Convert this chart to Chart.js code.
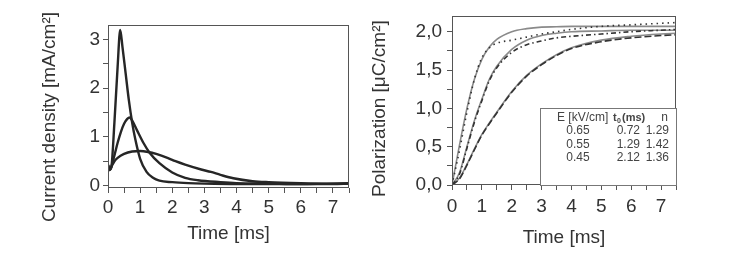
<!DOCTYPE html>
<html>
<head>
<meta charset="utf-8">
<script src="https://cdn.jsdelivr.net/npm/chart.js@4"></script>
<style>
  body { margin: 0; background: #fff; width: 737px; height: 265px; position: relative; overflow: hidden; }
  canvas { position: absolute; top: 0; }
  #current { left: 0; }
  #polar { left: 370px; }
</style>
</head>
<body>
<canvas id="current" width="370" height="265"></canvas>
<canvas id="polar" width="367" height="265"></canvas>
<script>
/* current density transients (three fields) */
var time1 = [0, 0.05, 0.1, 0.2, 0.3, 0.38, 0.45, 0.55, 0.65, 0.75, 0.85, 1.0, 1.2, 1.4, 1.6, 2.0, 2.5, 3, 4, 5, 6, 7, 7.5];
var current1 = [0.42, 0.32, 0.36, 1.3, 2.45, 3.2, 2.85, 2.3, 1.75, 1.3, 0.95, 0.55, 0.28, 0.16, 0.1, 0.07, 0.05, 0.04, 0.03, 0.03, 0.03, 0.03, 0.04];
var time2 = [0, 0.05, 0.1, 0.2, 0.3, 0.4, 0.5, 0.6, 0.67, 0.75, 0.9, 1.1, 1.3, 1.6, 2.0, 2.4, 2.8, 3.5, 4, 5, 6, 7, 7.5];
var current2 = [0.42, 0.32, 0.38, 0.62, 0.88, 1.1, 1.27, 1.37, 1.4, 1.34, 1.14, 0.88, 0.67, 0.46, 0.27, 0.16, 0.11, 0.07, 0.05, 0.04, 0.03, 0.04, 0.04];
var time3 = [0, 0.05, 0.1, 0.2, 0.3, 0.5, 0.75, 1.0, 1.25, 1.5, 1.85, 2.1, 2.4, 2.9, 3.2, 3.5, 3.9, 4.5, 5, 6, 7, 7.5];
var current3 = [0.42, 0.32, 0.38, 0.5, 0.57, 0.65, 0.7, 0.71, 0.69, 0.65, 0.57, 0.5, 0.43, 0.33, 0.28, 0.22, 0.15, 0.09, 0.07, 0.05, 0.04, 0.05];

/* polarization: fits (solid) and measured (dotted / dash-dot / dashed) */
var polTime = [0, 0.25, 0.5, 0.75, 1, 1.25, 1.5, 2, 2.5, 3, 3.5, 4, 5, 6, 7, 7.5];
var fit065 = [0, 0.52, 1.0, 1.38, 1.64, 1.8, 1.9, 2.0, 2.04, 2.06, 2.065, 2.07, 2.07, 2.07, 2.07, 2.07];
var meas065 = [0, 0.45, 0.95, 1.38, 1.66, 1.79, 1.85, 1.89, 1.93, 1.97, 2.0, 2.03, 2.07, 2.09, 2.11, 2.12];
var fit055 = [0, 0.16, 0.5, 0.84, 1.12, 1.38, 1.55, 1.77, 1.89, 1.95, 1.98, 2.0, 2.01, 2.02, 2.02, 2.02];
var meas055 = [0, 0.14, 0.48, 0.82, 1.1, 1.36, 1.53, 1.73, 1.83, 1.88, 1.92, 1.94, 1.97, 2.0, 2.02, 2.03];
var fit045 = [0, 0.09, 0.27, 0.47, 0.66, 0.81, 0.95, 1.22, 1.43, 1.58, 1.7, 1.79, 1.89, 1.94, 1.97, 1.98];
var meas045 = [0, 0.08, 0.26, 0.46, 0.65, 0.8, 0.94, 1.21, 1.42, 1.57, 1.69, 1.78, 1.87, 1.92, 1.95, 1.96];

/* inset table */
var tableFields = ['0.65', '0.55', '0.45'];
var tableT0 = ['0.72', '1.29', '2.12'];
var tableN = ['1.29', '1.42', '1.36'];

var FONT = "'Liberation Sans', Arial, sans-serif";
var AXIS = '#555';

var toXY = function(xs, ys) {
  return xs.map(function(x, i) { return { x: x, y: ys[i] }; });
};

// box around the plot area
var framePlugin = {
  id: 'frame',
  afterDraw: function(chart) {
    var a = chart.chartArea, ctx = chart.ctx;
    ctx.save();
    ctx.strokeStyle = AXIS;
    ctx.lineWidth = 1;
    ctx.strokeRect(Math.round(a.left) + 0.5, Math.round(a.top) + 0.5,
      Math.round(a.right - a.left) - 1, Math.round(a.bottom - a.top) - 1);
    ctx.restore();
  }
};

var tablePlugin = {
  id: 'fitTable',
  afterDraw: function(chart) {
    var a = chart.chartArea, ctx = chart.ctx;
    var left = a.right - 136, top = a.bottom - 77;
    ctx.save();
    ctx.fillStyle = '#fff';
    ctx.fillRect(left, top, a.right - left, a.bottom - top);
    ctx.strokeStyle = '#777';
    ctx.lineWidth = 1;
    ctx.strokeRect(Math.round(left) + 0.5, Math.round(top) + 0.5, a.right - left, a.bottom - top);
    ctx.fillStyle = '#444';
    ctx.textBaseline = 'middle';
    ctx.font = '12px ' + FONT;
    ctx.textAlign = 'left';
    ctx.fillText('E [kV/cm]', left + 17, top + 10);
    ctx.font = 'bold 11px ' + FONT;
    ctx.fillText('t', left + 73, top + 10);
    ctx.font = 'bold 7px ' + FONT;
    ctx.fillText('0', left + 77, top + 13);
    ctx.font = 'bold 11px ' + FONT;
    ctx.fillText('(ms)', left + 82, top + 10);
    ctx.font = '12px ' + FONT;
    ctx.textAlign = 'right';
    ctx.fillText('n', left + 128, top + 10);
    for (var i = 0; i < tableFields.length; i++) {
      var y = top + 23 + i * 13.5;
      ctx.textAlign = 'center';
      ctx.fillText(tableFields[i], left + 38, y);
      ctx.textAlign = 'right';
      ctx.fillText(tableT0[i], left + 100, y);
      ctx.fillText(tableN[i], left + 129, y);
    }
    ctx.restore();
  }
};

var axisFont = { family: FONT, size: 19, lineHeight: 1 };
var tickFont = { family: FONT, size: 19 };
var SP = '\u00a0';

var xScale = function(height, labelPad, titlePad) {
  return {
    type: 'linear', min: 0, max: 7.5,
    afterFit: function(s) { s.height = height; },
    border: { display: false },
    grid: { drawOnChartArea: false, color: AXIS, tickLength: 5 },
    ticks: {
      stepSize: 0.5, includeBounds: false, color: '#333', font: tickFont, padding: labelPad,
      maxRotation: 0, autoSkip: false,
      callback: function(v) { return Number.isInteger(v) ? String(v) : ''; }
    },
    title: { display: true, text: 'Time [ms]', color: '#333', font: axisFont, padding: { top: 0, bottom: titlePad } }
  };
};

var lineDefaults = { pointRadius: 0, fill: false, cubicInterpolationMode: 'monotone' };

var darkLine = function(xs, ys) {
  return Object.assign({ data: toXY(xs, ys), borderColor: '#262626', borderWidth: 2.4 }, lineDefaults);
};

new Chart(document.getElementById('current'), {
  type: 'line',
  data: { datasets: [darkLine(time1, current1), darkLine(time2, current2), darkLine(time3, current3)] },
  options: {
    responsive: false, animation: false,
    layout: { padding: { left: 0, top: 25, right: 21, bottom: 0 } },
    plugins: { legend: { display: false }, tooltip: { enabled: false } },
    scales: {
      x: xScale(77, 3, 21.5),
      y: {
        min: -0.05, max: 3.3,
        afterFit: function(s) { s.width = 108; },
        border: { display: false },
        grid: { drawOnChartArea: false, color: AXIS, tickLength: 5 },
        ticks: {
          stepSize: 0.5, includeBounds: false, color: '#333', font: tickFont, padding: 3, autoSkip: false,
          callback: function(v) { return Number.isInteger(v) ? String(v) : ''; }
        },
        // trailing spaces nudge the rotated title down to where the reference has it
        title: { display: true, text: 'Current density [mA/cm²]' + SP + SP + SP + SP, color: '#333', font: axisFont, padding: { top: 40.5, bottom: 0 } }
      }
    }
  },
  plugins: [framePlugin]
});

var fitLine = function(ys) {
  return Object.assign({ data: toXY(polTime, ys), borderColor: '#8a8a8a', borderWidth: 1.6 }, lineDefaults);
};
var measLine = function(ys, dash) {
  return Object.assign({ data: toXY(polTime, ys), borderColor: '#333', borderWidth: 1.6, borderDash: dash }, lineDefaults);
};

new Chart(document.getElementById('polar'), {
  type: 'line',
  data: {
    datasets: [
      measLine(meas065, [1.5, 4]),
      measLine(meas055, [5, 3, 1.5, 3]),
      measLine(meas045, [7, 3]),
      fitLine(fit065), fitLine(fit055), fitLine(fit045)
    ]
  },
  options: {
    responsive: false, animation: false,
    layout: { padding: { left: 0, top: 15, right: 61, bottom: 0 } },
    plugins: { legend: { display: false }, tooltip: { enabled: false } },
    scales: {
      x: xScale(80, 5, 17.5),
      y: {
        min: 0, max: 2.2,
        afterFit: function(s) { s.width = 82; },
        border: { display: false },
        grid: { drawOnChartArea: false, color: AXIS, tickLength: 5 },
        ticks: {
          stepSize: 0.25, includeBounds: false, color: '#333', font: tickFont, padding: 5, autoSkip: false,
          callback: function(v) { return Math.abs(v * 2 - Math.round(v * 2)) < 1e-9 ? v.toFixed(1).replace('.', ',') : ''; }
        },
        title: { display: true, text: 'Polarization [μC/cm²]' + SP + SP + SP, color: '#333', font: axisFont, padding: { top: 0.5, bottom: 0 } }
      }
    }
  },
  plugins: [framePlugin, tablePlugin]
});
</script>
</body>
</html>
